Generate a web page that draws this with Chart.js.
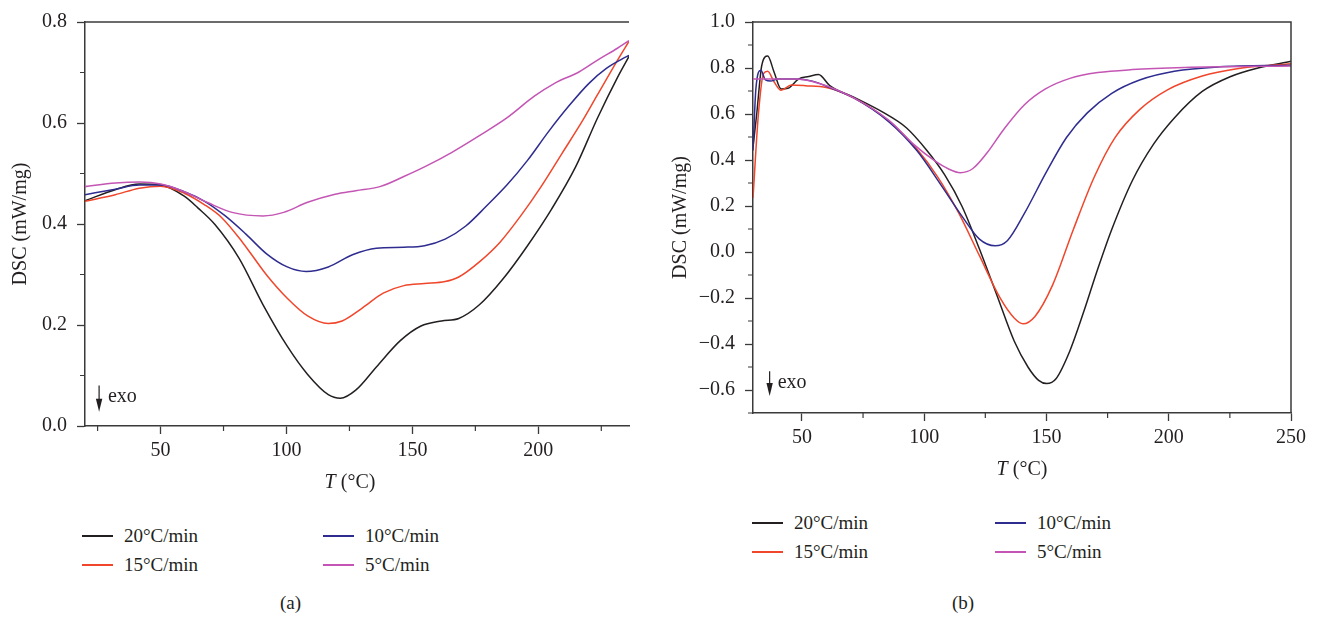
<!DOCTYPE html>
<html>
<head>
<meta charset="utf-8">
<script src="https://cdn.jsdelivr.net/npm/chart.js@4.4.1/dist/chart.umd.min.js"></script>
<style>
  html, body { margin: 0; padding: 0; background: #fff; }
  body { width: 1319px; height: 618px; position: relative; overflow: hidden;
         font-family: "Liberation Serif", "DejaVu Serif", serif; color: #231f20; }
  canvas { position: absolute; top: 0; }
  #chartA { left: 0; }
  #chartB { left: 660px; }
  .item { position: absolute; height: 22px; font-size: 19px; line-height: 22px; white-space: nowrap; }
  .item .ln { position: absolute; left: 0; top: 10px; width: 31px; height: 2px; }
  .item .tx { position: absolute; left: 42px; top: 0; }
  .caption { position: absolute; top: 591px; font-size: 19px; line-height: 24px; }
</style>
</head>
<body>
<canvas id="chartA" width="660" height="500"></canvas>
<canvas id="chartB" width="659" height="500"></canvas>
<div id="legendA"></div>
<div id="legendB"></div>
<div class="caption" style="left:280px">(a)</div>
<div class="caption" style="left:952px">(b)</div>

<script>
const seriesLabels = ['20°C/min', '15°C/min', '10°C/min', '5°C/min'];
const seriesColors = ['#231f20', '#f0462b', '#2e2c8f', '#c455b4'];

// ---- panel (a) ----
const tA20 = [20, 32, 41.6, 50, 59.4, 64.8, 71.6, 81.2, 90.7, 100.3, 108.4, 116.6, 121.4, 127.5, 135.7, 145.2, 153.4, 161.6, 168.4, 176.6, 186.1, 195.7, 205.2, 214.8, 223.5, 231.4, 236];
const vA20 = [0.446, 0.468, 0.479, 0.477, 0.455, 0.432, 0.399, 0.332, 0.240, 0.158, 0.102, 0.062, 0.055, 0.071, 0.117, 0.169, 0.198, 0.208, 0.213, 0.240, 0.292, 0.357, 0.429, 0.513, 0.610, 0.690, 0.732];

const tA15 = [20, 32, 41.6, 50, 59.4, 67.5, 74.4, 82.5, 92.1, 100.3, 108.4, 116.6, 122.1, 130.2, 138.4, 146.6, 154.8, 163, 168.4, 176.6, 184.8, 193, 201.1, 209.3, 217.5, 223.5, 231.4, 236];
const vA15 = [0.445, 0.458, 0.471, 0.475, 0.461, 0.438, 0.412, 0.364, 0.299, 0.253, 0.218, 0.203, 0.208, 0.234, 0.263, 0.278, 0.282, 0.286, 0.295, 0.325, 0.364, 0.416, 0.474, 0.539, 0.604, 0.656, 0.724, 0.762];

const tA10 = [20, 32.1, 41.6, 50.1, 59.4, 67.5, 75.7, 83.9, 92.1, 100.3, 107.8, 116.6, 126.2, 135.7, 146.6, 154.8, 163, 171.2, 179.3, 187.5, 195.7, 203.9, 212, 220, 227, 233, 236];
const vA10 = [0.458, 0.469, 0.477, 0.477, 0.464, 0.445, 0.416, 0.380, 0.341, 0.315, 0.306, 0.315, 0.339, 0.352, 0.354, 0.357, 0.370, 0.396, 0.435, 0.477, 0.526, 0.582, 0.633, 0.678, 0.708, 0.726, 0.734];

const tA5 = [20, 32.1, 41.6, 50.1, 59.4, 68.9, 78.4, 90.7, 98.9, 108.4, 119.3, 127.5, 137.1, 146.6, 154.8, 165.7, 176.6, 187.5, 198.4, 206.6, 216.1, 224.3, 231.4, 236];
const vA5 = [0.474, 0.481, 0.483, 0.479, 0.464, 0.442, 0.423, 0.416, 0.423, 0.443, 0.459, 0.466, 0.474, 0.494, 0.513, 0.542, 0.575, 0.610, 0.653, 0.679, 0.701, 0.727, 0.748, 0.763];

// ---- panel (b) ----
const tB20 = [30, 31.5, 33.6, 36.0, 38.6, 41.5, 44.3, 48.6, 52.8, 56.8, 61.4, 71.4, 82.7, 92.7, 101.2, 108.4, 115.5, 122.6, 129.7, 136.8, 142.5, 146.8, 150.1, 153.9, 159.6, 165.3, 171.0, 176.7, 185.2, 193.8, 202.3, 213.7, 225.1, 236.5, 250];
const vB20 = [0.455, 0.598, 0.812, 0.852, 0.783, 0.709, 0.712, 0.752, 0.763, 0.772, 0.723, 0.672, 0.610, 0.540, 0.440, 0.335, 0.198, 0.013, -0.187, -0.387, -0.501, -0.558, -0.572, -0.551, -0.429, -0.258, -0.073, 0.098, 0.312, 0.469, 0.583, 0.698, 0.762, 0.800, 0.829];

const tB15 = [30, 32.2, 34.3, 36.0, 38.6, 41.5, 45.7, 51.4, 60.0, 71.4, 85.6, 97.0, 105.5, 114.1, 122.6, 131.1, 136.8, 140.4, 145.3, 152.5, 161.0, 169.6, 178.1, 188.1, 199.5, 213.7, 227.9, 250];
const vB15 = [0.235, 0.598, 0.776, 0.786, 0.740, 0.703, 0.726, 0.723, 0.715, 0.669, 0.569, 0.448, 0.327, 0.170, -0.016, -0.201, -0.287, -0.312, -0.280, -0.144, 0.098, 0.327, 0.498, 0.619, 0.705, 0.765, 0.797, 0.819];

const tB10 = [30, 31.2, 33.2, 35.1, 37.2, 40.0, 47.2, 54.3, 61.4, 71.4, 85.6, 97.0, 106.9, 115.5, 122.6, 129.0, 134.0, 141.1, 149.6, 158.2, 166.7, 176.7, 188.1, 202.3, 220.8, 250];
const vB10 = [0.441, 0.712, 0.790, 0.748, 0.743, 0.752, 0.752, 0.743, 0.715, 0.669, 0.566, 0.441, 0.291, 0.155, 0.056, 0.027, 0.049, 0.170, 0.341, 0.498, 0.605, 0.690, 0.748, 0.786, 0.805, 0.812];

const tB5 = [30, 47.2, 57.1, 71.4, 85.6, 95.6, 104.1, 109.8, 114.8, 119.8, 125.4, 132.6, 141.1, 149.6, 159.6, 171.0, 185.2, 206.4, 250];
const vB5 = [0.752, 0.752, 0.733, 0.669, 0.572, 0.469, 0.398, 0.362, 0.345, 0.362, 0.427, 0.534, 0.641, 0.709, 0.755, 0.780, 0.793, 0.802, 0.809];

const FONT = '"Liberation Serif", "DejaVu Serif", serif';
const INK = '#231f20';
const AXIS = '#3a3a3a';

function fmtY(v) {
    return v.toFixed(1).replace('-', '\u2212');
}

function toPoints(ts, vs) {
    return ts.map((t, i) => ({ x: t, y: vs[i] }));
}

// minor ticks, frame, exo arrow and italic x title
const decoPlugin = {
    id: 'deco',
    afterDraw(chart, args, opts) {
        const ctx = chart.ctx;
        const a = chart.chartArea;
        const sx = chart.scales.x, sy = chart.scales.y;
        ctx.save();
        ctx.strokeStyle = AXIS;
        ctx.lineWidth = 1.2;
        ctx.beginPath();
        opts.minorX.forEach(v => {
            const px = sx.getPixelForValue(v);
            ctx.moveTo(px, a.bottom);
            ctx.lineTo(px, a.bottom + 5);
        });
        opts.minorY.forEach(v => {
            const py = sy.getPixelForValue(v);
            ctx.moveTo(a.left, py);
            ctx.lineTo(a.left - 5, py);
        });
        ctx.stroke();

        // frame
        ctx.lineWidth = 1.5;
        ctx.beginPath();
        ctx.moveTo(a.left, a.top);
        ctx.lineTo(a.right, a.top);
        if (opts.rightBorder) ctx.lineTo(a.right, a.bottom);
        ctx.stroke();

        // exo arrow
        const e = opts.exo;
        const ex = sx.getPixelForValue(e.x);
        const eTop = sy.getPixelForValue(e.top);
        const eTip = sy.getPixelForValue(e.tip);
        ctx.strokeStyle = INK;
        ctx.fillStyle = INK;
        ctx.lineWidth = 1.2;
        ctx.beginPath();
        ctx.moveTo(ex, eTop);
        ctx.lineTo(ex, eTip - 10);
        ctx.stroke();
        ctx.beginPath();
        ctx.moveTo(ex - 3.2, eTip - 13);
        ctx.lineTo(ex + 3.2, eTip - 13);
        ctx.lineTo(ex, eTip);
        ctx.closePath();
        ctx.fill();
        ctx.font = '20px ' + FONT;
        ctx.textBaseline = 'middle';
        ctx.textAlign = 'left';
        ctx.fillText('exo', sx.getPixelForValue(e.textX), sy.getPixelForValue(e.textY));

        // x title: italic T (°C)
        const cx = (a.left + a.right) / 2 + (opts.titleShift || 0);
        const ty = a.bottom + 57;
        ctx.font = 'italic 20px ' + FONT;
        const w1 = ctx.measureText('T').width;
        ctx.font = '20px ' + FONT;
        const w2 = ctx.measureText(' (°C)').width;
        const x0 = cx - (w1 + w2) / 2;
        ctx.font = 'italic 20px ' + FONT;
        ctx.fillText('T', x0, ty);
        ctx.font = '20px ' + FONT;
        ctx.fillText(' (°C)', x0 + w1, ty);
        ctx.restore();
    }
};

function makeChart(id, series, xr, yr, layout, deco) {
    const datasets = series.map((s, i) => ({
        label: seriesLabels[i],
        data: toPoints(s[0], s[1]),
        borderColor: seriesColors[i],
        borderWidth: 1.5,
        pointRadius: 0,
        fill: false,
        cubicInterpolationMode: 'monotone'
    })).reverse();

    const tickFont = { family: FONT, size: 20 };
    return new Chart(document.getElementById(id), {
        type: 'line',
        data: { datasets: datasets },
        options: {
            responsive: false,
            animation: false,
            devicePixelRatio: 1,
            layout: { padding: layout.padding },
            plugins: {
                legend: { display: false },
                tooltip: { enabled: false },
                deco: deco
            },
            scales: {
                x: {
                    type: 'linear',
                    min: xr.min, max: xr.max,
                    ticks: { stepSize: 50, includeBounds: false, padding: 5, color: INK, font: tickFont, maxRotation: 0, autoSkip: false },
                    grid: { drawOnChartArea: false, tickLength: 8, color: AXIS, tickWidth: 1.3 },
                    border: { color: AXIS, width: 1.5 },
                    afterFit: s => { s.height = layout.xHeight; }
                },
                y: {
                    type: 'linear',
                    min: yr.min, max: yr.max,
                    ticks: { stepSize: 0.2, includeBounds: false, padding: 10, color: INK, font: tickFont, callback: v => fmtY(v) },
                    grid: { drawOnChartArea: false, tickLength: 8, color: AXIS, tickWidth: 1.3 },
                    border: { color: AXIS, width: 1.5 },
                    title: { display: true, text: 'DSC (mW/mg)', color: INK, font: { family: FONT, size: 20 }, padding: { top: layout.titlePad, bottom: 0 } },
                    afterFit: s => { s.width = layout.yWidth; }
                }
            }
        },
        plugins: [decoPlugin]
    });
}

makeChart('chartA',
    [[tA20, vA20], [tA15, vA15], [tA10, vA10], [tA5, vA5]],
    { min: 20, max: 236 }, { min: 0, max: 0.8 },
    { padding: { left: 0, right: 31, top: 16, bottom: 0 }, xHeight: 74, yWidth: 85, titlePad: 9 },
    { minorX: [25, 75, 125, 175, 225], minorY: [0.1, 0.3, 0.5, 0.7], rightBorder: false, titleShift: -7,
      exo: { x: 25.6, top: 0.08, tip: 0.028, textX: 29.1, textY: 0.057 } });

makeChart('chartB',
    [[tB20, vB20], [tB15, vB15], [tB10, vB10], [tB5, vB5]],
    { min: 30, max: 250 }, { min: -0.7, max: 1.0 },
    { padding: { left: 0, right: 28, top: 16, bottom: 0 }, xHeight: 87, yWidth: 93, titlePad: 9 },
    { minorX: [75, 125, 175, 225], minorY: [-0.7, -0.5, -0.3, -0.1, 0.1, 0.3, 0.5, 0.7, 0.9], rightBorder: true,
      exo: { x: 36.8, top: -0.518, tip: -0.626, textX: 40.1, textY: -0.569 } });

// legends: two columns, order 20 / 10 on top, 15 / 5 below
function makeLegend(id, cols, rows) {
    const host = document.getElementById(id);
    const order = [[0, 2], [1, 3]];
    order.forEach((row, r) => row.forEach((si, c) => {
        const d = document.createElement('div');
        d.className = 'item';
        d.style.left = cols[c] + 'px';
        d.style.top = (rows[r] - 11) + 'px';
        d.innerHTML = '<span class="ln" style="background:' + seriesColors[si] + '"></span><span class="tx">' + seriesLabels[si] + '</span>';
        host.appendChild(d);
    }));
}
makeLegend('legendA', [82, 323], [536, 565]);
makeLegend('legendB', [752, 995], [523, 552]);
</script>
</body>
</html>
